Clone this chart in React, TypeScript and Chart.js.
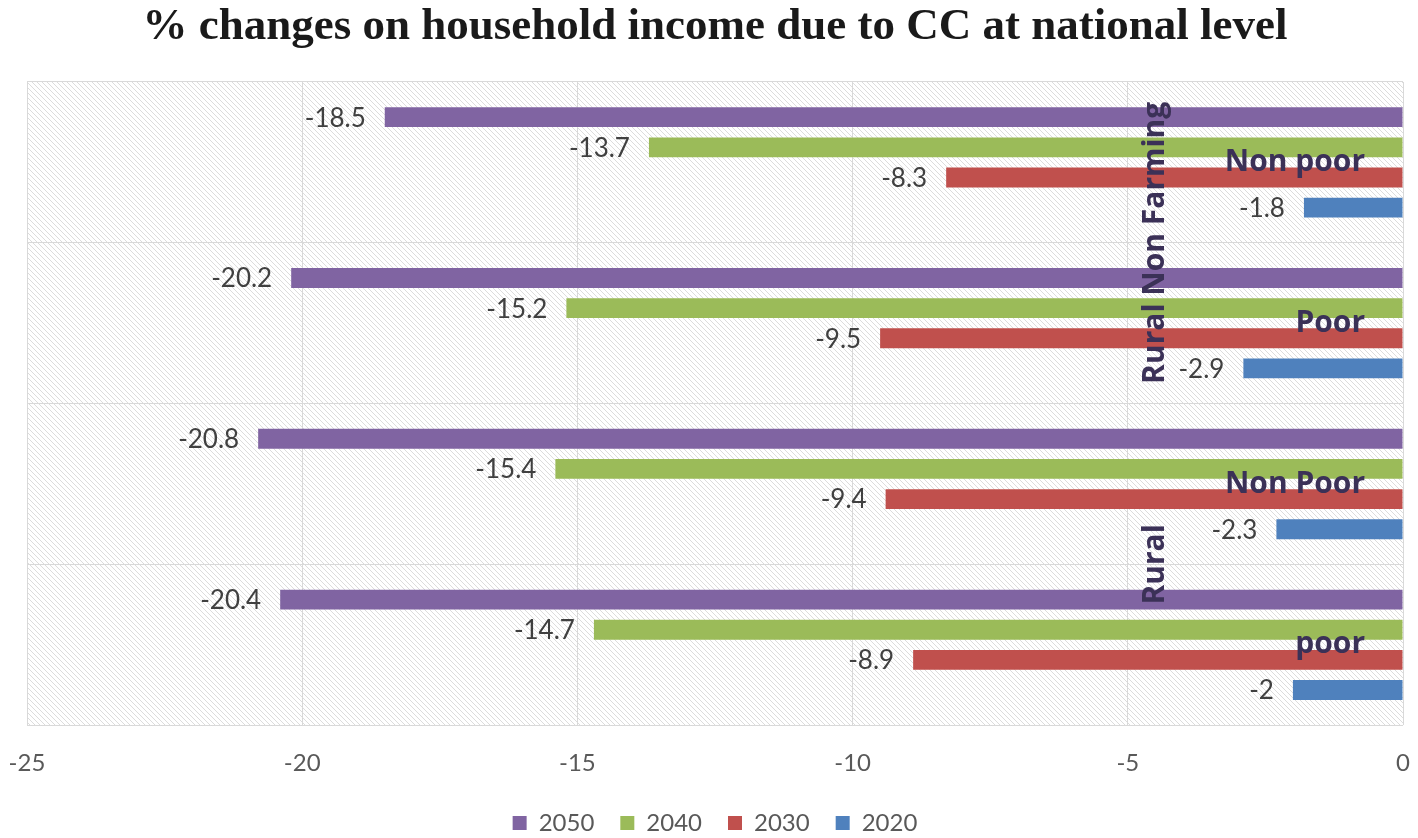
import React, { useEffect, useRef } from "react";
import { Chart, registerables } from "chart.js";

Chart.register(...registerables);

// chart data
const categories = ["Non poor", "Poor", "Non Poor", "poor"];
const groupLabels = ["Rural Non Farming", "Rural"];
const groupSpans = [
  [0, 1],
  [2, 3],
];
const years = ["2050", "2040", "2030", "2020"];
const values2050 = [-18.5, -20.2, -20.8, -20.4];
const values2040 = [-13.7, -15.2, -15.4, -14.7];
const values2030 = [-8.3, -9.5, -9.4, -8.9];
const values2020 = [-1.8, -2.9, -2.3, -2];
const xTicks = [-25, -20, -15, -10, -5, 0];

const colors = ["#8064A2", "#9BBB59", "#C0504D", "#4F81BD"];

function makeHatch(ctx: CanvasRenderingContext2D) {
  const c = document.createElement("canvas");
  c.width = 5;
  c.height = 5;
  const p = c.getContext("2d")!;
  p.fillStyle = "#ffffff";
  p.fillRect(0, 0, 5, 5);
  p.strokeStyle = "#dcdcdc";
  p.lineWidth = 1;
  p.beginPath();
  p.moveTo(-1, -1);
  p.lineTo(6, 6);
  p.moveTo(-1, 4);
  p.lineTo(1, 6);
  p.moveTo(4, -1);
  p.lineTo(6, 1);
  p.stroke();
  return ctx.createPattern(c, "repeat");
}

const hatchBackground = {
  id: "hatchBackground",
  beforeDraw(chart: any) {
    const { ctx, chartArea } = chart;
    const pat = makeHatch(ctx);
    if (!pat) return;
    ctx.save();
    ctx.fillStyle = pat;
    ctx.fillRect(
      chartArea.left,
      chartArea.top,
      chartArea.right - chartArea.left,
      chartArea.bottom - chartArea.top
    );
    ctx.restore();
  },
};

const barValueLabels = {
  id: "barValueLabels",
  afterDatasetsDraw(chart: any) {
    const { ctx } = chart;
    ctx.save();
    ctx.font = "26px Lato";
    ctx.fillStyle = "#404040";
    ctx.textAlign = "right";
    ctx.textBaseline = "middle";
    chart.data.datasets.forEach((ds: any, di: number) => {
      const meta = chart.getDatasetMeta(di);
      meta.data.forEach((bar: any, i: number) => {
        ctx.fillText(String(ds.data[i]), bar.x - 19, bar.y + 1);
      });
    });
    ctx.restore();
  },
};

const categoryLabels = {
  id: "categoryLabels",
  afterDatasetsDraw(chart: any) {
    const { ctx, chartArea } = chart;
    const yScale = chart.scales.y;
    ctx.save();
    ctx.font = "bold 30px 'Open Sans'";
    ctx.fillStyle = "#3B3157";
    ctx.textAlign = "right";
    ctx.textBaseline = "middle";
    categories.forEach((label, i) => {
      ctx.fillText(label, chartArea.right - 38, yScale.getPixelForValue(i));
    });
    groupLabels.forEach((label, g) => {
      const [a, b] = groupSpans[g];
      const y = (yScale.getPixelForValue(a) + yScale.getPixelForValue(b)) / 2;
      ctx.save();
      ctx.translate(chartArea.right - 248, y);
      ctx.rotate(-Math.PI / 2);
      ctx.textAlign = "center";
      ctx.fillText(label, 0, 0);
      ctx.restore();
    });
    ctx.restore();
  },
};

export default function App() {
  const canvasRef = useRef<HTMLCanvasElement>(null);

  useEffect(() => {
    document.body.style.margin = "0";
    const ctx = canvasRef.current?.getContext("2d");
    if (!ctx) return;

    const series = [values2050, values2040, values2030, values2020];

    const chart = new Chart(ctx, {
      type: "bar",
      data: {
        labels: categories,
        datasets: series.map((data, i) => ({
          label: years[i],
          data: data,
          backgroundColor: colors[i],
          borderWidth: 0,
          categoryPercentage: 0.75,
          barPercentage: 0.66,
        })),
      },
      options: {
        indexAxis: "y",
        animation: false,
        responsive: true,
        maintainAspectRatio: false,
        layout: {
          padding: { left: 27, right: 15, top: 0, bottom: -7 },
        },
        scales: {
          x: {
            min: -25,
            max: 0,
            afterBuildTicks: (axis: any) => {
              axis.ticks = xTicks.map((v) => ({ value: v }));
            },
            // tick marks are invisible, they only make room under the plot
            grid: {
              color: "#d9d9d9",
              drawTicks: true,
              tickLength: 17,
              tickColor: "rgba(0,0,0,0)",
            },
            border: { display: false },
            ticks: {
              padding: 7,
              color: "#595959",
              font: { family: "Lato", size: 24 },
            },
          },
          y: {
            grid: { color: "#d9d9d9", offset: true, drawTicks: false },
            border: { display: false },
            ticks: { display: false },
          },
        },
        plugins: {
          title: {
            display: true,
            text: "% changes on household income due to CC at national level",
            color: "#1a1a1a",
            font: { family: "'Liberation Serif'", size: 45, weight: "bold" },
            padding: { top: 0, bottom: 28 },
          },
          legend: {
            position: "bottom",
            labels: {
              boxWidth: 14,
              boxHeight: 14,
              padding: 26,
              color: "#595959",
              font: { family: "Lato", size: 24 },
            },
          },
          tooltip: { enabled: false },
        },
      },
      plugins: [hatchBackground, barValueLabels, categoryLabels],
    });

    return () => {
      chart.destroy();
    };
  }, []);

  return (
    <div style={{ width: 1418, height: 838, position: "relative" }}>
      <canvas ref={canvasRef} />
    </div>
  );
}
